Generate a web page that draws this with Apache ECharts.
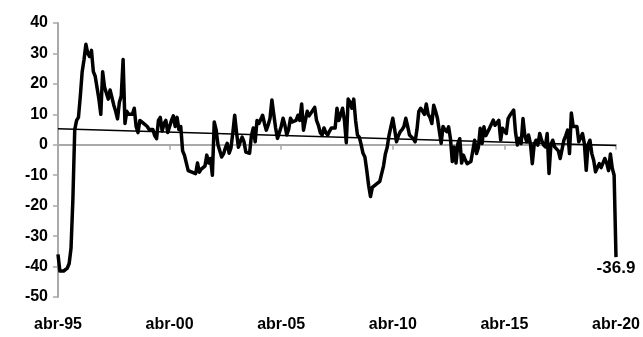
<!DOCTYPE html>
<html>
<head>
<meta charset="utf-8">
<script src="https://cdn.jsdelivr.net/npm/echarts@6/dist/echarts.min.js"></script>
<style>
  html, body { margin: 0; padding: 0; background: #fff; }
  #main { width: 643px; height: 337px; }
</style>
</head>
<body>
<div id="main"></div>
<script>
// meses (abr-95 ... abr-20)
var monthNames = ['ene', 'feb', 'mar', 'abr', 'may', 'jun', 'jul', 'ago', 'sep', 'oct', 'nov', 'dic'];
var startYear = 1995, startMonth = 3, monthCount = 301;

// valores, un mes por dato
var values = [
  -36, -41.5, -42, -41.5, -41, -40.5, -39, -34, -18, 5, 8, 9,
  16, 24, 28, 33, 30, 29, 31, 24, 22.5, 22, 15, 10,
  24, 19, 17, 15, 18, 18.5, 13, 11, 8.5, 14, 16, 28,
  7, 11, 10, 9.5, 10, 12, 6, 4, 8, 8.5, 7, 6.5,
  6, 5, 4.5, 5, 3, 2, 8, 9, 4.5, 7, 8, 4,
  3.8, 8, 9.5, 6, 9, 5, 6, -2, -3.5, -4, -8.5, -9,
  -9, -8.5, -9.5, -6, -9, -8, -8, -7, -3.4, -6, -4.5, -10,
  7.5, 5, 0, -2, -4, -3, -1, 0.5, -2.8, -1, 4, 9.7,
  4, -0.8, 1, 2.5, 1, -2.4, -2.6, -2.8, 3, 5.5, 1, 8,
  7, 6.5, 9.7, 7, 4.8, 6.5, 8.7, 14.7, 10, 5.5, 2.1, 4,
  6, 8.7, 6.4, 3.2, 5, 8.7, 7.5, 7, 8, 9.7, 8, 13.4,
  4.8, 8, 11, 9.5, 10.4, 11, 12.3, 8, 6.4, 4, 3.2, 5.5,
  4, 3.2, 4.5, 5.5, 5, 5.5, 12, 8, 7.5, 12, 8, 0.7,
  15, 14, 12, 15, 8, 3.2, 2.5, 0, -2.8, -4, -8.4, -13.3,
  -17, -14, -14, -13, -12.5, -12, -11.5, -7, -3, -0.8, 3.2, 6,
  8.7, 5, 1, 3, 4.3, 5, 6, 8.7, 6, 3.2, 3.7, 2,
  1, 5, 11, 12, 11, 10, 13.4, 10, 9, 7, 13, 11,
  8.7, 8.7, 0.5, 6, 5, 4.3, 5.9, 2, -5.5, -0.7, -6, 0.4,
  2, -6, -3.4, -5, -6.2, -6.4, -5.5, -5, 1.5, -2.9, -1, 5.4,
  0.4, 5.9, 3, 2.6, 5.4, 6, 8.1, 6.4, 6.4, 8, 1.6, 5.4,
  4.5, 3.7, 8.6, 9.7, 9.7, 11.4, 4, -0.1, 2.1, 0.4, 8.6, 3,
  1, 3.2, 0.4, -6.2, 0, 1.5, -0.1, 3.7, 1.5, 0, -0.7, 3.7,
  -9.4, 0, 1.5, -0.7, -1.2, -2, -4.5, -4.5, 1.5, 3, 4.8, -2.9,
  10.4, 6, 5.4, 6, 1, 1, 3.7, 0.4, -8.4, 0, 1.5, -2.9,
  -5.1, -8.9, -7.5, -6.2, -7.5, -7.8, -4.5, -6, -8.5, -3, -7.7, -10,
  -36.9
];

// linea de tendencia: valor inicial y final
var trendEnds = [5.3, -0.2];

var yTicks = { min: -50, max: 40, interval: 10 };

var categories = [];
for (var i = 0; i < monthCount; i++) {
  var m = (startMonth + i) % 12;
  var y = startYear + Math.floor((startMonth + i) / 12);
  categories.push(monthNames[m] + '-' + String(y).slice(2));
}

var lastIdx = values.length - 1;

var trendData = values.map(function (v, i) {
  if (i === 0) return trendEnds[0];
  if (i === lastIdx) return trendEnds[1];
  return null;
});

var font = 'Liberation Sans, Arial, sans-serif';
var gray = '#a9a9a9';
var myChart = echarts.init(document.getElementById('main'));

var option = {
  animation: false,
  backgroundColor: '#fff',
  grid: { left: 58, right: 27, top: 23, bottom: 40 },
  xAxis: [
    {
      // etiquetas abajo
      type: 'category',
      data: categories,
      boundaryGap: false,
      position: 'bottom',
      axisLine: { show: false, onZero: false },
      axisTick: { show: false },
      axisLabel: {
        interval: 59, margin: 20,
        color: '#000', fontFamily: font, fontWeight: 'bold', fontSize: 16
      },
      splitLine: { show: false }
    },
    {
      // eje en cero
      type: 'category',
      data: categories,
      boundaryGap: false,
      position: 'top',
      axisLine: { show: true, onZero: true, lineStyle: { color: gray, width: 2 } },
      axisTick: { show: true, inside: true, interval: 59, length: 5, lineStyle: { color: gray, width: 1.5 } },
      axisLabel: { show: false },
      splitLine: { show: false }
    }
  ],
  yAxis: {
    type: 'value',
    min: yTicks.min,
    max: yTicks.max,
    interval: yTicks.interval,
    axisLine: { show: true, lineStyle: { color: gray, width: 2 } },
    axisTick: { show: true, length: 5, lineStyle: { color: gray, width: 1.5 } },
    axisLabel: { margin: 10, color: '#000', fontFamily: font, fontWeight: 'bold', fontSize: 16 },
    splitLine: { show: false }
  },
  series: [
    {
      type: 'line',
      xAxisIndex: 0,
      data: values,
      symbol: 'none',
      lineStyle: { color: '#000', width: 3.5, join: 'round' },
      z: 3,
      markPoint: {
        symbol: 'circle',
        symbolSize: 0,
        silent: true,
        data: [{ coord: [categories[lastIdx], values[lastIdx]], value: values[lastIdx] }],
        label: {
          show: true, position: 'bottom', distance: 3,
          formatter: '{c}', color: '#000',
          fontFamily: font, fontWeight: 'bold', fontSize: 17
        }
      }
    },
    {
      type: 'line',
      xAxisIndex: 0,
      data: trendData,
      connectNulls: true,
      symbol: 'none',
      lineStyle: { color: '#000', width: 1.5 },
      z: 4
    }
  ]
};

myChart.setOption(option);
</script>
</body>
</html>
